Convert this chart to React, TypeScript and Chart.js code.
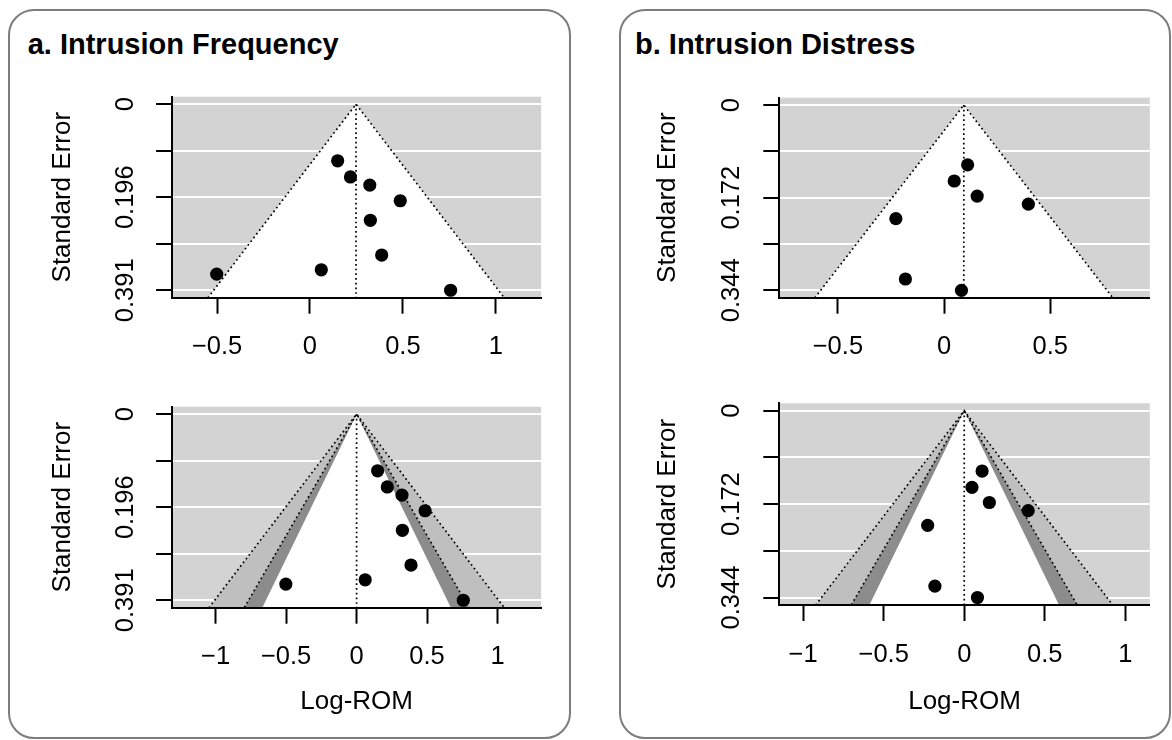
import React, { useEffect, useRef } from "react";
import { Chart, registerables } from "chart.js";

Chart.register(...registerables);

const FONT = '"Liberation Sans", Arial, Helvetica, sans-serif';
Chart.defaults.font.family = FONT;
Chart.defaults.color = "#000";

// ---------- Data: a. Intrusion Frequency ----------
const freqLogROM = [0.149, 0.218, 0.322, 0.486, 0.325, 0.386, 0.061, -0.502, 0.757];
const freqSE = [0.119, 0.153, 0.17, 0.203, 0.244, 0.317, 0.348, 0.357, 0.391];
const freqEstimate = 0.248;
const freqSETicks = [0, 0.09775, 0.1955, 0.29325, 0.391];
const freqSELabels = ["0", "", "0.196", "", "0.391"];
const freqXTicksTop = [-0.5, 0, 0.5, 1];
const freqXTicksBottom = [-1, -0.5, 0, 0.5, 1];

// ---------- Data: b. Intrusion Distress ----------
const distLogROM = [0.111, 0.048, 0.156, 0.397, -0.227, -0.182, 0.082];
const distSE = [0.111, 0.141, 0.169, 0.184, 0.211, 0.323, 0.344];
const distEstimate = 0.093;
const distSETicks = [0, 0.086, 0.172, 0.258, 0.344];
const distSELabels = ["0", "", "0.172", "", "0.344"];
const distXTicksTop = [-0.5, 0, 0.5];
const distXTicksBottom = [-1, -0.5, 0, 0.5, 1];

// contour levels (99%, 95%, 90%) and their shades
const contourZ = [2.576, 1.96, 1.645];
const contourColors = ["#bfbfbf", "#8c8c8c", "#ffffff"];
const funnelZ = 1.96;

const TICK_SIZE = 25.5;
const TITLE_SIZE = 26;
const PANEL_TITLE_SIZE = 29;
const TICK_LEN = 16;

const fmtX = (v: number) => (v < 0 ? "\u2212" + Math.abs(v) : String(v));

const bgPlugin = {
  id: "plotBg",
  beforeDraw(chart: any) {
    const { ctx, chartArea: a } = chart;
    ctx.save();
    ctx.fillStyle = "#d3d3d3";
    ctx.fillRect(a.left, a.top, a.right - a.left, a.bottom - a.top);
    ctx.restore();
  },
};

type Rect = { left: number; top: number; width: number; height: number };
type Area = { left: number; top: number; right: number; bottom: number };
type PlotCfg = {
  x: number[];
  se: number[];
  center: number;
  seTicks: number[];
  seLabels: string[];
  xTicks: number[];
  xMin: number;
  xMax: number;
  contour: boolean;
  xTitle: boolean;
  canvas: Rect;
  area: Area;
  yTitleX: number;
  yLabelX: number;
  xLabelMid: number;
  xTitleMid?: number;
};

function buildConfig(cfg: PlotCfg): any {
  const seMax = cfg.seTicks[cfg.seTicks.length - 1];
  const yMin = -0.04 * seMax;
  const yMax = 1.04 * seMax;
  const yB = yMax * 1.02;
  const c = cfg.center;
  const tri = (z: number) => [
    { x: c - z * yB, y: yB },
    { x: c, y: 0 },
    { x: c + z * yB, y: yB },
  ];
  const dotted = {
    type: "line",
    borderColor: "#000",
    borderWidth: 1.7,
    borderDash: [1.7, 3],
    pointRadius: 0,
    fill: false,
    tension: 0,
    order: 1,
  };
  const datasets: any[] = [];
  datasets.push({
    type: "scatter",
    data: cfg.x.map((x, i) => ({ x, y: cfg.se[i] })),
    pointRadius: 6.6,
    pointBackgroundColor: "#000",
    pointBorderWidth: 0,
    pointBorderColor: "#000",
    showLine: false,
    clip: false,
    order: 0,
  });
  datasets.push({ ...dotted, data: [{ x: c, y: 0 }, { x: c, y: yB }] });
  if (cfg.contour) {
    datasets.push({ ...dotted, data: tri(2.576) });
    datasets.push({ ...dotted, data: tri(1.96) });
    contourZ.forEach((z, i) => {
      datasets.push({
        type: "line",
        data: tri(z),
        fill: "shape",
        backgroundColor: contourColors[i],
        borderColor: "rgba(0,0,0,0)",
        borderWidth: 1,
        pointRadius: 0,
        tension: 0,
        order: 4 - i,
      });
    });
  } else {
    datasets.push({ ...dotted, data: tri(funnelZ) });
    datasets.push({
      type: "line",
      data: tri(funnelZ),
      fill: "shape",
      backgroundColor: "#ffffff",
      borderColor: "rgba(0,0,0,0)",
      borderWidth: 1,
      pointRadius: 0,
      tension: 0,
      order: 2,
    });
  }

  const { canvas, area } = cfg;
  const tickLH = TICK_SIZE * 1.2;
  const titleLH = TITLE_SIZE * 1.2;
  const yAxisWidth = area.left - canvas.left;
  const xAxisHeight = canvas.top + canvas.height - area.bottom;
  const yLabelPad = area.left - TICK_LEN - (TICK_SIZE * 2.502) / 2 - cfg.yLabelX;
  const xLabelPad = cfg.xLabelMid - area.bottom - TICK_LEN - tickLH / 2;

  return {
    type: "scatter",
    data: { datasets },
    plugins: [bgPlugin],
    options: {
      responsive: false,
      maintainAspectRatio: false,
      animation: false,
      events: [],
      layout: {
        padding: {
          top: area.top - canvas.top,
          right: canvas.left + canvas.width - area.right,
          left: 0,
          bottom: 0,
        },
      },
      plugins: { legend: { display: false }, tooltip: { enabled: false } },
      scales: {
        x: {
          type: "linear",
          position: "bottom",
          min: cfg.xMin,
          max: cfg.xMax,
          bounds: "data",
          afterBuildTicks: (s: any) => {
            s.ticks = cfg.xTicks.map((v) => ({ value: v }));
          },
          afterFit: (s: any) => {
            s.height = xAxisHeight;
          },
          ticks: {
            autoSkip: false,
            maxRotation: 0,
            minRotation: 0,
            padding: xLabelPad,
            color: "#000",
            font: { size: TICK_SIZE, family: FONT },
            callback: (v: any) => fmtX(Number(v)),
          },
          grid: {
            drawOnChartArea: false,
            drawTicks: true,
            tickLength: TICK_LEN,
            tickColor: "#000",
            tickWidth: 2,
          },
          border: { display: true, color: "#000", width: 2, z: 1 },
          title: cfg.xTitle
            ? {
                display: true,
                text: "Log-ROM",
                color: "#000",
                font: { size: TITLE_SIZE, family: FONT },
                padding: {
                  top: 0,
                  bottom: canvas.top + canvas.height - (cfg.xTitleMid || 0) - titleLH / 2,
                },
              }
            : { display: false },
        },
        y: {
          type: "linear",
          position: "left",
          reverse: true,
          min: yMin,
          max: yMax,
          bounds: "data",
          afterBuildTicks: (s: any) => {
            s.ticks = cfg.seTicks.map((v) => ({ value: v }));
          },
          afterFit: (s: any) => {
            s.width = yAxisWidth;
          },
          ticks: {
            autoSkip: false,
            minRotation: 90,
            maxRotation: 90,
            crossAlign: "center",
            padding: yLabelPad,
            color: "#000",
            font: { size: TICK_SIZE, family: FONT },
            callback: (_v: any, i: number) => cfg.seLabels[i],
          },
          grid: {
            drawOnChartArea: true,
            color: "#ffffff",
            lineWidth: 2,
            drawTicks: true,
            tickLength: TICK_LEN,
            tickColor: "#000",
            tickWidth: 2,
          },
          border: { display: true, color: "#000", width: 2, z: 1 },
          title: {
            display: true,
            text: "Standard Error",
            color: "#000",
            font: { size: TITLE_SIZE, family: FONT },
            padding: { top: cfg.yTitleX - canvas.left - titleLH / 2, bottom: 0 },
          },
        },
      },
    },
  };
}

function FunnelChart({ cfg }: { cfg: PlotCfg }) {
  const ref = useRef<HTMLCanvasElement | null>(null);
  useEffect(() => {
    if (!ref.current) return;
    const chart = new Chart(ref.current, buildConfig(cfg));
    return () => chart.destroy();
  }, []);
  return (
    <canvas
      ref={ref}
      width={cfg.canvas.width}
      height={cfg.canvas.height}
      style={{
        position: "absolute",
        left: cfg.canvas.left,
        top: cfg.canvas.top,
        width: cfg.canvas.width,
        height: cfg.canvas.height,
      }}
    />
  );
}

const plots: PlotCfg[] = [
  {
    x: freqLogROM, se: freqSE, center: freqEstimate, seTicks: freqSETicks, seLabels: freqSELabels,
    xTicks: freqXTicksTop, xMin: -0.742, xMax: 1.244, contour: false, xTitle: false,
    canvas: { left: 14, top: 60, width: 551, height: 315 },
    area: { left: 172.1, top: 96.7, right: 541.1, bottom: 297.7 },
    yTitleX: 62.5, yLabelX: 126.3, xLabelMid: 346.6,
  },
  {
    x: freqLogROM, se: freqSE, center: 0, seTicks: freqSETicks, seLabels: freqSELabels,
    xTicks: freqXTicksBottom, xMin: -1.309, xMax: 1.309, contour: true, xTitle: true,
    canvas: { left: 14, top: 380, width: 551, height: 355 },
    area: { left: 172.1, top: 406.7, right: 541.1, bottom: 607.7 },
    yTitleX: 62.5, yLabelX: 126.3, xLabelMid: 656.6, xTitleMid: 702,
  },
  {
    x: distLogROM, se: distSE, center: distEstimate, seTicks: distSETicks, seLabels: distSELabels,
    xTicks: distXTicksTop, xMin: -0.776, xMax: 0.969, contour: false, xTitle: false,
    canvas: { left: 625, top: 60, width: 543, height: 315 },
    area: { left: 779.3, top: 97.7, right: 1149.8, bottom: 297.7 },
    yTitleX: 668, yLabelX: 732, xLabelMid: 346.6,
  },
  {
    x: distLogROM, se: distSE, center: 0, seTicks: distSETicks, seLabels: distSELabels,
    xTicks: distXTicksBottom, xMin: -1.148, xMax: 1.152, contour: true, xTitle: true,
    canvas: { left: 625, top: 380, width: 543, height: 355 },
    area: { left: 779.3, top: 403.3, right: 1149.8, bottom: 605 },
    yTitleX: 668, yLabelX: 732, xLabelMid: 654.6, xTitleMid: 702,
  },
];

const panelTitles = ["a. Intrusion Frequency", "b. Intrusion Distress"];

export default function App() {
  const panelStyle = (left: number, width: number): React.CSSProperties => ({
    position: "absolute",
    left,
    top: 9,
    width,
    height: 730,
    border: "2px solid #7d7d7d",
    borderRadius: 26,
    boxSizing: "border-box",
  });
  const titleStyle = (left: number): React.CSSProperties => ({
    position: "absolute",
    left,
    top: 55 - 0.8465 * PANEL_TITLE_SIZE,
    fontFamily: FONT,
    fontWeight: "bold",
    fontSize: PANEL_TITLE_SIZE,
    lineHeight: PANEL_TITLE_SIZE + "px",
    whiteSpace: "nowrap",
    color: "#000",
  });
  return (
    <div
      style={{
        position: "absolute",
        left: 0,
        top: 0,
        width: 1172,
        height: 740,
        overflow: "hidden",
        background: "#fff",
      }}
    >
      <div style={panelStyle(8, 563)} />
      <div style={panelStyle(619, 552)} />
      <div style={titleStyle(27.7)}>{panelTitles[0]}</div>
      <div style={titleStyle(635)}>{panelTitles[1]}</div>
      {plots.map((p, i) => (
        <FunnelChart key={i} cfg={p} />
      ))}
    </div>
  );
}
